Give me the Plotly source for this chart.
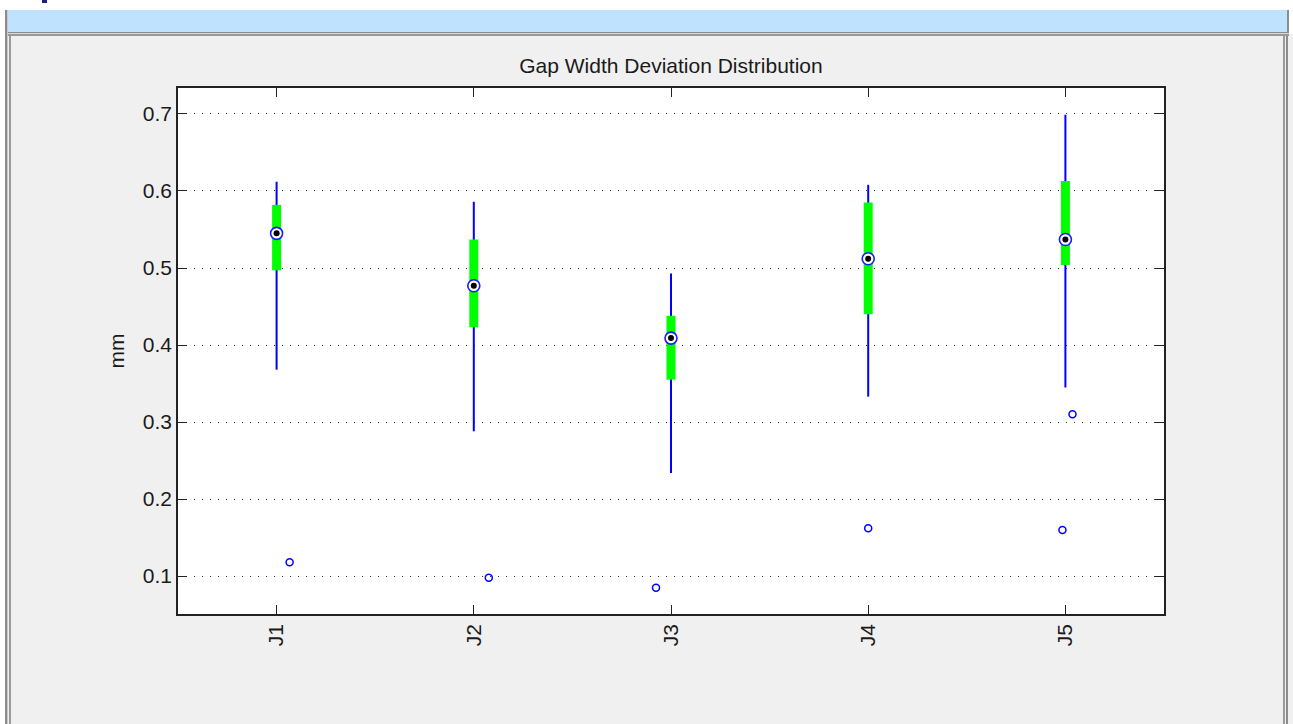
import plotly.graph_objects as go

# ---- data ----
groups = ["J1", "J2", "J3", "J4", "J5"]
positions = [1, 2, 3, 4, 5]
upper_whisker = [0.612, 0.586, 0.493, 0.608, 0.699]
q3 = [0.582, 0.537, 0.438, 0.585, 0.613]
median = [0.545, 0.477, 0.409, 0.512, 0.537]
q1 = [0.497, 0.423, 0.355, 0.440, 0.504]
lower_whisker = [0.368, 0.288, 0.234, 0.333, 0.345]

outlier_group_pos = [1, 2, 3, 4, 5, 5]
outlier_jitter = [0.066, 0.076, -0.076, 0.0, 0.036, -0.015]
outlier_value = [0.118, 0.098, 0.085, 0.162, 0.310, 0.160]

y_ticks = [0.1, 0.2, 0.3, 0.4, 0.5, 0.6, 0.7]

W, H = 1293, 724
ML, MR, MT, MB = 178, 129, 88, 110
PW, PH = W - ML - MR, H - MT - MB

FONT = "Liberation Sans, Arial, sans-serif"


def seg(xs, lo, hi):
    xx, yy = [], []
    for x, a, b in zip(xs, lo, hi):
        xx += [x, x, None]
        yy += [a, b, None]
    return xx, yy


fig = go.Figure()

wx, wy = seg(positions, lower_whisker, upper_whisker)
fig.add_trace(go.Scatter(x=wx, y=wy, mode="lines",
                         line=dict(color="#0000ff", width=2),
                         hoverinfo="skip", showlegend=False))

bx, by = seg(positions, q1, q3)
fig.add_trace(go.Scatter(x=bx, y=by, mode="lines",
                         line=dict(color="#00ff00", width=9),
                         hoverinfo="skip", showlegend=False))

fig.add_trace(go.Scatter(x=positions, y=median, mode="markers",
                         marker=dict(symbol="circle", size=12, color="white",
                                     line=dict(color="#1a1aff", width=1.6)),
                         showlegend=False))
fig.add_trace(go.Scatter(x=positions, y=median, mode="markers",
                         marker=dict(symbol="circle", size=6, color="black",
                                     line=dict(width=0)),
                         showlegend=False))

ox = [p + j for p, j in zip(outlier_group_pos, outlier_jitter)]
fig.add_trace(go.Scatter(x=ox, y=outlier_value, mode="markers",
                         marker=dict(symbol="circle-open", size=7,
                                     color="#0000ff", line=dict(width=1.5)),
                         showlegend=False))


# ---- window decorations (pixel positions converted to paper coords) ----
def rect(x0, y0, x1, y1, color):
    return dict(type="rect", xref="paper", yref="paper", layer="below",
                x0=(x0 - ML) / PW, x1=(x1 - ML) / PW,
                y0=(H - MB - y0) / PH, y1=(H - MB - y1) / PH,
                fillcolor=color, line=dict(width=0))


shapes = [
    rect(0, 0, W, 10, "#ffffff"),
    rect(0, 0, 5, H, "#ffffff"),
    rect(1289, 0, W, H, "#f0f0f0"),
    rect(1289, 0, W, 34, "#ffffff"),
    rect(42, 0, 47, 3, "#1f1f7a"),
    rect(5, 10, 7, H, "#8c8c8c"),
    rect(7, 10, 8, H, "#c8c8c8"),
    rect(8, 10, 1287, 32, "#bfe3fe"),
    rect(1287, 10, 1289, 33, "#8c8c8c"),
    rect(8, 32, 1289, 33, "#8c8c8c"),
    rect(8, 33, 1289, 34, "#d8d8d8"),
    rect(8, 34, 1289, 36, "#9a9a9a"),
    rect(9, 36, 11, H, "#9a9a9a"),
    rect(1283, 36, 1285, H, "#9a9a9a"),
    rect(1286, 36, 1288, H, "#8c8c8c"),
]

axis_common = dict(showline=True, linecolor="#222222", linewidth=1.5,
                   mirror="ticks", ticks="inside", ticklen=9, tickwidth=1,
                   tickcolor="#222222", zeroline=False,
                   tickfont=dict(family=FONT, size=21, color="#1a1a1a"))

fig.update_layout(
    width=W, height=H,
    margin=dict(l=ML, r=MR, t=MT, b=MB),
    paper_bgcolor="#f0f0f0",
    plot_bgcolor="#ffffff",
    shapes=shapes,
    title=dict(text="Gap Width Deviation Distribution", x=(ML + PW / 2) / W,
               xanchor="center", y=1 - 66 / H, yanchor="middle",
               font=dict(family=FONT, size=21, color="#1a1a1a")),
    xaxis=dict(range=[0.5, 5.5], tickvals=positions, ticktext=groups,
               tickangle=-90, showgrid=False, **axis_common),
    yaxis=dict(range=[0.0508, 0.7337], tickvals=y_ticks,
               ticktext=[f"{v:.1f}" for v in y_ticks],
               showgrid=True, gridcolor="#333333", gridwidth=1,
               griddash="1px,7px",
               title=dict(text="mm", standoff=12,
                          font=dict(family=FONT, size=21, color="#1a1a1a")),
               **axis_common),
)

fig.write_html(
    "out.html",
    config={"displayModeBar": False},
    post_script="document.body.style.margin='0';document.body.style.overflow='hidden';",
)
